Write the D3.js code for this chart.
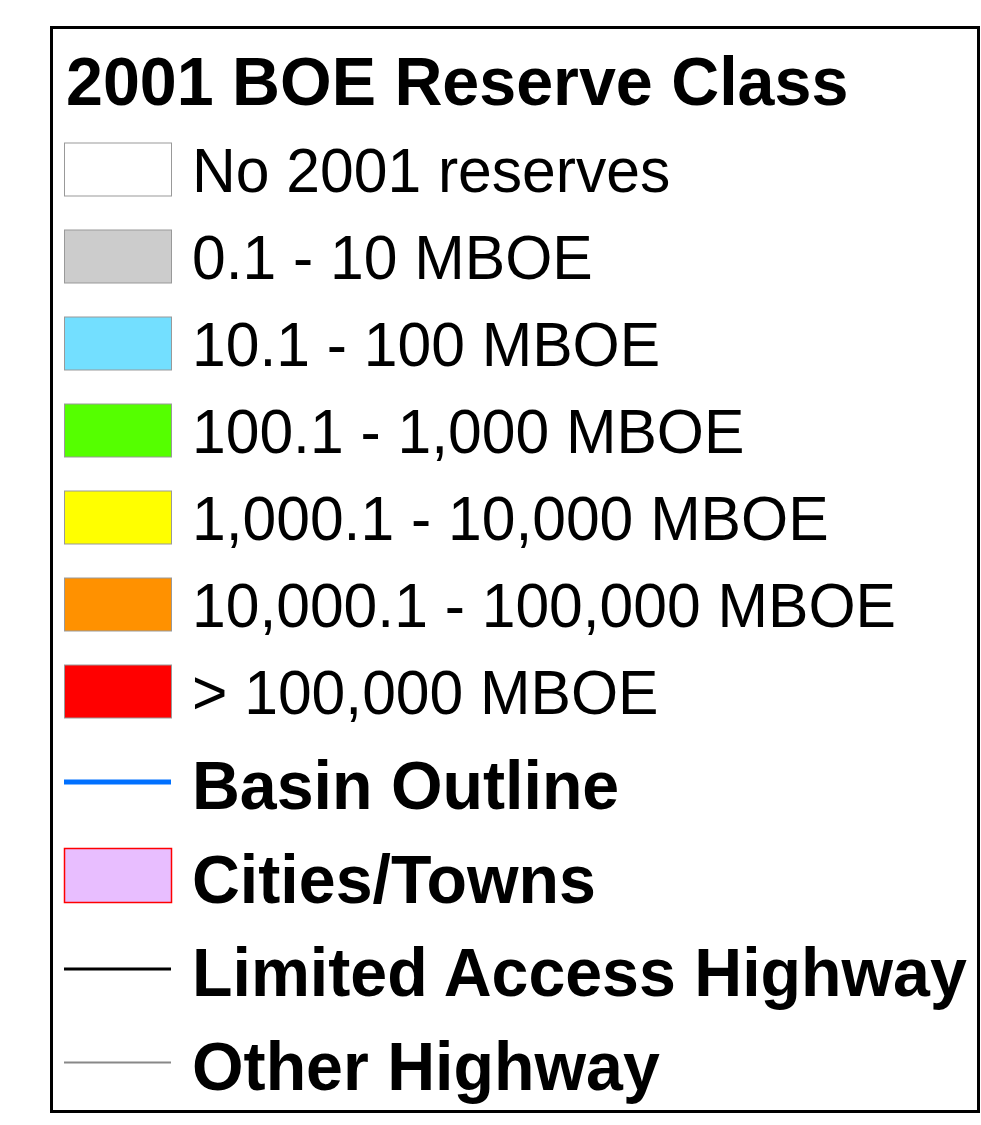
<!DOCTYPE html>
<meta charset="utf-8">
<style>
body { margin: 0; background: #fff; }
text { font-family: "Liberation Sans", Arial, sans-serif; fill: #000; }
.frame { fill: none; stroke: #000; stroke-width: 3; }
.swatch { stroke: #999; stroke-width: 1; }
</style>
<svg width="981" height="1125"></svg>
<script src="https://d3js.org/d3.v7.min.js"></script>
<script>

var title = "2001 BOE Reserve Class";

var classLabels = ["No 2001 reserves", "0.1 - 10 MBOE", "10.1 - 100 MBOE", "100.1 - 1,000 MBOE",
    "1,000.1 - 10,000 MBOE", "10,000.1 - 100,000 MBOE", "> 100,000 MBOE"];
var classColors = ["#ffffff", "#cccccc", "#73dfff", "#55ff00", "#ffff00", "#ff9100", "#ff0000"];

var featureLabels = ["Basin Outline", "Cities/Towns", "Limited Access Highway", "Other Highway"];
var featureKinds = ["line", "area", "line", "line"];
var featureColors = ["#0070ff", "#e8beff", "#000000", "#888888"];
var featureStrokes = ["#0070ff", "#ff0000", "#000000", "#888888"];
var featureWidths = [5, 1.5, 3, 2];

var svg = d3.select("svg");

svg.append("rect")
    .attr("class", "frame")
    .attr("x", 51.5)
    .attr("y", 27.5)
    .attr("width", 927)
    .attr("height", 1084);

svg.append("text")
    .attr("transform", "translate(66,105) scale(1,1.02)")
    .attr("font-size", 66.4)
    .attr("font-weight", "bold")
    .text(title);

// class swatches, one row per reserve class
var yClass = d3.scaleLinear()
    .domain([0, 1])
    .range([169.5, 256.5]);

var rows = svg.append("g").selectAll("g")
  .data(classLabels)
  .enter().append("g")
    .attr("transform", function(d, i) { return "translate(0," + yClass(i) + ")"; });

rows.append("rect")
    .attr("class", "swatch")
    .attr("x", 64.5)
    .attr("y", -26.5)
    .attr("width", 107)
    .attr("height", 53)
    .attr("fill", function(d, i) { return classColors[i]; });

rows.append("text")
    .attr("transform", "translate(192,22.8) scale(1,1.04)")
    .attr("font-size", 60.6)
    .text(function(d) { return d; });

// other map features
var yFeat = d3.scaleLinear()
    .domain([0, 1])
    .range([782, 875.5]);

var feats = svg.append("g").selectAll("g")
  .data(featureLabels)
  .enter().append("g")
    .attr("transform", function(d, i) { return "translate(0," + yFeat(i) + ")"; });

feats.filter(function(d, i) { return featureKinds[i] == "line"; })
  .append("line")
    .attr("x1", 64)
    .attr("x2", 171)
    .attr("stroke", function(d) { return featureStrokes[featureLabels.indexOf(d)]; })
    .attr("stroke-width", function(d) { return featureWidths[featureLabels.indexOf(d)]; });

feats.filter(function(d, i) { return featureKinds[i] == "area"; })
  .append("rect")
    .attr("x", 64.5)
    .attr("y", -27)
    .attr("width", 107)
    .attr("height", 54)
    .attr("fill", function(d) { return featureColors[featureLabels.indexOf(d)]; })
    .attr("stroke", function(d) { return featureStrokes[featureLabels.indexOf(d)]; })
    .attr("stroke-width", function(d) { return featureWidths[featureLabels.indexOf(d)]; });

feats.append("text")
    .attr("transform", "translate(192,27) scale(1,1.04)")
    .attr("font-size", 66.3)
    .attr("font-weight", "bold")
    .text(function(d) { return d; });

</script>
